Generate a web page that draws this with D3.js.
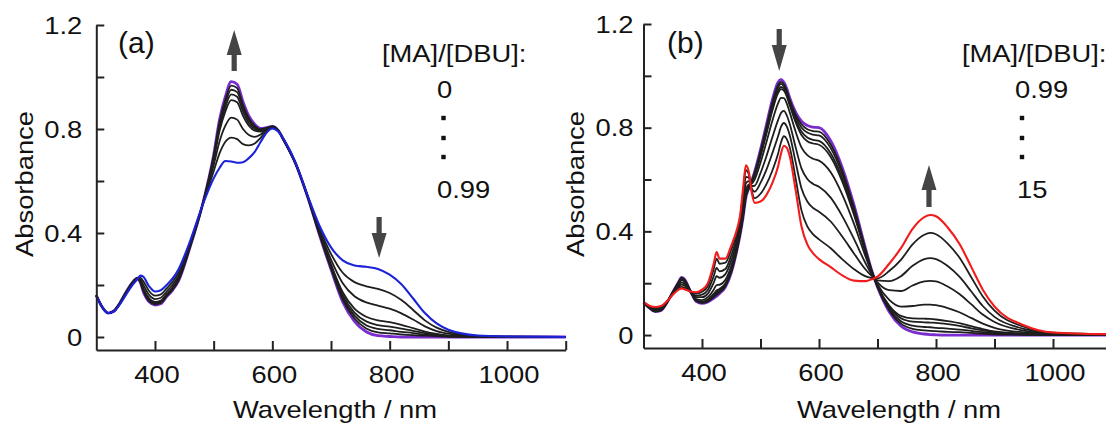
<!DOCTYPE html>
<html>
<head>
<meta charset="utf-8">
<script src="https://cdn.jsdelivr.net/npm/d3@7"></script>
<style>
  body { margin: 0; background: #fff; }
  svg { display: block; }
  text { font-family: "Liberation Sans", Arial, Helvetica, sans-serif; fill: #111; }
</style>
</head>
<body>
<svg id="chart" width="1106" height="425"></svg>
<script>
// ---------- axis ticks ----------
const yMajorTicks = [0, 0.4, 0.8, 1.2];
const yMinorTicks = [0, 0.2, 0.4, 0.6, 0.8, 1.0, 1.2];
const xLabelTicks = [400, 600, 800, 1000];
const xAllTicks = [400, 500, 600, 700, 800, 900, 1000, 1100];

// ---------- panel (a): [MA]/[DBU] = 0 -> 0.99 ----------
const wlA = [300,310,320,330,340,350,360,370,375,380,390,400,410,420,430,440,460,480,500,510,520,530,540,550,560,570,580,590,600,610,620,640,660,680,700,720,740,760,780,800,820,840,860,880,900,950,1000,1100];
const aRatio0 = [.160,.115,.092,.098,.125,.160,.195,.222,.236,.232,.195,.175,.180,.200,.225,.260,.370,.500,.610,.650,.677,.675,.670,.672,.688,.712,.750,.785,.802,.790,.758,.668,.545,.430,.345,.295,.275,.270,.262,.240,.203,.148,.092,.052,.028,.006,.002,0];
const aStep1 = [.160,.115,.092,.099,.127,.163,.198,.223,.228,.215,.177,.159,.164,.187,.212,.247,.363,.500,.637,.706,.751,.767,.761,.742,.737,.744,.766,.791,.804,.792,.757,.667,.544,.420,.320,.247,.211,.195,.185,.169,.142,.104,.064,.036,.020,.004,.001,0];
const aStep2 = [.160,.115,.092,.099,.128,.166,.201,.224,.222,.201,.162,.146,.151,.175,.200,.235,.357,.500,.660,.752,.813,.844,.836,.800,.777,.770,.779,.796,.806,.793,.756,.666,.542,.411,.298,.207,.157,.133,.121,.109,.091,.067,.041,.023,.013,.003,.001,0];
const aStep3 = [.160,.115,.092,.100,.129,.168,.203,.225,.216,.188,.149,.135,.140,.165,.190,.225,.352,.500,.679,.792,.868,.911,.903,.851,.813,.794,.790,.800,.808,.794,.756,.666,.541,.403,.280,.172,.109,.078,.064,.057,.047,.034,.021,.012,.006,.001,0,0];
const aStep4 = [.160,.115,.092,.100,.129,.168,.203,.225,.214,.184,.145,.131,.136,.162,.187,.222,.351,.500,.686,.805,.885,.933,.924,.868,.824,.801,.794,.802,.809,.794,.755,.665,.541,.401,.274,.161,.094,.060,.046,.040,.032,.024,.015,.008,.004,.001,0,0];
const aStep5 = [.160,.115,.092,.100,.130,.169,.204,.226,.213,.181,.141,.128,.133,.160,.185,.220,.349,.500,.691,.817,.900,.951,.942,.882,.834,.807,.797,.803,.809,.795,.755,.665,.541,.399,.269,.151,.082,.045,.031,.026,.020,.015,.009,.005,.003,.001,0,0];
const aStep6 = [.160,.115,.092,.100,.130,.170,.205,.226,.211,.178,.138,.126,.131,.157,.182,.217,.348,.500,.696,.826,.913,.967,.957,.893,.842,.813,.799,.804,.810,.795,.755,.665,.540,.397,.264,.143,.071,.033,.018,.014,.010,.007,.005,.003,.001,0,0,0];
const aRatio099 = [.160,.115,.092,.100,.130,.170,.205,.226,.210,.175,.135,.123,.128,.155,.180,.215,.347,.500,.700,.835,.925,.982,.972,.905,.850,.818,.802,.805,.810,.795,.755,.665,.540,.395,.260,.135,.060,.020,.005,.002,0,0,0,0,0,0,0,0];

// ---------- panel (b): [MA]/[DBU] = 0.99 -> 15 ----------
const wlB = [300,310,320,330,340,350,360,365,370,380,390,400,410,420,425,430,440,450,460,465,470,475,480,485,490,500,510,520,530,535,540,545,550,560,570,580,590,600,620,640,660,680,690,700,720,740,760,780,790,800,820,840,860,880,900,950,1000,1100];
const bRatio099 = [.125,.105,.090,.095,.125,.165,.205,.222,.215,.170,.130,.122,.128,.142,.150,.160,.185,.240,.330,.385,.450,.530,.565,.595,.630,.715,.810,.905,.975,.986,.975,.950,.915,.860,.825,.808,.802,.800,.750,.645,.500,.330,.250,.185,.090,.035,.012,.004,.002,.001,0,0,0,0,0,0,0,0];
const bStep1 = [.125,.105,.091,.096,.125,.165,.204,.221,.214,.170,.131,.124,.130,.146,.155,.164,.188,.243,.332,.387,.453,.534,.567,.594,.626,.709,.802,.895,.965,.977,.968,.943,.908,.851,.813,.794,.787,.785,.735,.633,.491,.326,.249,.186,.096,.044,.024,.018,.016,.015,.012,.011,.008,.005,.003,.001,0,0];
const bStep2 = [.125,.105,.091,.096,.125,.164,.203,.219,.213,.170,.132,.125,.132,.150,.160,.168,.192,.246,.335,.390,.457,.538,.569,.592,.623,.703,.794,.886,.956,.969,.960,.936,.902,.842,.801,.781,.773,.770,.721,.620,.483,.323,.248,.187,.101,.053,.036,.031,.030,.028,.025,.021,.016,.011,.007,.002,.001,0];
const bStep3 = [.125,.106,.092,.097,.126,.164,.202,.218,.211,.170,.134,.127,.135,.155,.167,.174,.196,.251,.338,.393,.461,.543,.572,.591,.618,.695,.783,.873,.943,.957,.951,.927,.893,.830,.785,.762,.753,.749,.701,.604,.471,.318,.247,.189,.109,.065,.052,.049,.048,.047,.042,.035,.026,.018,.011,.004,.001,0];
const bStep4 = [.125,.106,.092,.097,.126,.164,.201,.217,.210,.170,.135,.129,.137,.159,.172,.178,.199,.254,.340,.395,.464,.546,.573,.589,.614,.689,.775,.863,.933,.949,.943,.920,.886,.821,.772,.748,.739,.734,.687,.591,.462,.314,.245,.190,.114,.074,.064,.063,.062,.060,.054,.046,.034,.023,.014,.005,.001,0];
const bStep5 = [.126,.107,.095,.099,.126,.163,.198,.212,.206,.170,.139,.135,.146,.175,.193,.194,.213,.266,.350,.404,.478,.561,.581,.584,.600,.665,.743,.825,.894,.915,.914,.893,.859,.785,.724,.694,.680,.673,.628,.541,.428,.300,.241,.195,.136,.110,.112,.117,.117,.115,.104,.088,.066,.044,.028,.010,.003,.001];
const bStep6 = [.126,.109,.098,.103,.127,.161,.192,.203,.198,.170,.146,.146,.160,.202,.227,.221,.235,.287,.366,.419,.500,.586,.594,.575,.576,.625,.689,.761,.829,.857,.865,.847,.814,.725,.643,.602,.583,.572,.530,.458,.370,.275,.234,.203,.173,.170,.191,.207,.209,.207,.187,.158,.119,.079,.050,.017,.005,.001];
const bStep7 = [.127,.110,.102,.106,.128,.159,.186,.195,.191,.169,.152,.156,.174,.227,.259,.246,.255,.307,.381,.433,.520,.610,.607,.566,.553,.587,.637,.700,.767,.803,.818,.804,.771,.668,.566,.515,.490,.476,.438,.379,.314,.252,.228,.211,.208,.227,.267,.293,.297,.293,.266,.225,.169,.112,.070,.024,.006,.002];
const bStep8 = [.128,.112,.105,.109,.129,.157,.180,.186,.183,.168,.160,.167,.189,.255,.295,.275,.279,.329,.398,.449,.544,.636,.620,.557,.528,.545,.581,.633,.699,.743,.767,.756,.724,.605,.481,.419,.388,.369,.335,.292,.254,.226,.220,.219,.247,.290,.350,.387,.394,.389,.353,.299,.224,.149,.094,.032,.009,.003];
const bRatio15 = [.128,.113,.108,.112,.130,.155,.175,.180,.177,.168,.165,.175,.200,.275,.320,.295,.295,.345,.410,.460,.560,.655,.630,.550,.510,.515,.540,.585,.650,.700,.730,.722,.690,.560,.420,.350,.315,.293,.262,.230,.210,.208,.215,.225,.275,.335,.410,.455,.463,.458,.415,.352,.264,.175,.110,.038,.010,.003];

// ---------- styles ----------
const PURPLE = "#7a2dcc", BLUE = "#1b22d8", RED = "#f21c1c", BLACK = "#1e1e1e", ARROW = "#454545";
const FONT = 24, SX = 1.14;

const svg = d3.select("#chart");

function txt(g, x, y, s, anchor = "start", size = FONT, sx = SX, rot = 0) {
  return g.append("text")
    .attr("transform", `translate(${x},${y})` + (rot ? ` rotate(${rot})` : "") + ` scale(${sx},1)`)
    .attr("text-anchor", anchor)
    .attr("font-size", size)
    .text(s);
}

function arrow(g, cx, yTail, yBase, yTip) {
  const pts = [[cx - 2.6, yTail], [cx - 2.6, yBase], [cx - 7.5, yBase], [cx, yTip],
               [cx + 7.5, yBase], [cx + 2.6, yBase], [cx + 2.6, yTail]];
  g.append("path").attr("d", d3.line()(pts) + "Z").attr("fill", ARROW);
}

function drawPanel(cfg) {
  const g = svg.append("g");
  const x = d3.scaleLinear().domain([300, 1100]).range([cfg.x0, cfg.x1]);
  const y = d3.scaleLinear().domain([-0.05, 1.2]).range([cfg.yBottom, cfg.yTop]);
  const line = d3.line().x(d => x(d[0])).y(d => y(d[1])).curve(d3.curveMonotoneX);

  // spectra
  const lines = g.append("g").attr("fill", "none").attr("stroke-linejoin", "round");
  cfg.series.forEach(s => {
    lines.append("path")
      .attr("d", line(cfg.wl.map((w, i) => [w, s.v[i]])))
      .attr("stroke", s.color)
      .attr("stroke-width", s.width);
  });

  // axes
  const yAxis = d3.axisLeft(y).tickValues(yMinorTicks).tickSizeInner(-8).tickSizeOuter(0).tickFormat("");
  const xAxis = d3.axisBottom(x).tickValues(xAllTicks).tickSizeInner(-9).tickSizeOuter(0).tickFormat("");
  const ya = g.append("g").attr("transform", `translate(${cfg.x0},0)`).call(yAxis);
  const xa = g.append("g").attr("transform", `translate(0,${cfg.yBottom})`).call(xAxis);
  [ya, xa].forEach(a => {
    a.selectAll("path, line").attr("stroke", "#222").attr("stroke-width", 2);
  });

  // tick labels
  yMajorTicks.forEach(v => txt(g, cfg.x0 - cfg.yLabelGap, y(v) + 8.5, v === 0 ? "0" : v.toFixed(1), "end"));
  xLabelTicks.forEach(v => txt(g, x(v) + 2, cfg.yBottom + 33, String(v), "middle"));

  // axis titles
  txt(g, cfg.titleX, 418, "Wavelength / nm", "middle");
  txt(g, cfg.absX, 184, "Absorbance", "middle", FONT, SX, -90);

  // panel tag
  txt(g, cfg.tagX, 53, cfg.tag, "start", 30, 1.0);

  // legend
  txt(g, cfg.legX, 62, "[MA]/[DBU]:");
  txt(g, cfg.valX, 98, cfg.from);
  [118, 138, 157].forEach(cy => g.append("rect")
    .attr("x", cfg.dotX - 2.2).attr("y", cy - 2.2).attr("width", 4.4).attr("height", 4.4).attr("fill", "#111"));
  txt(g, cfg.valX2, 198, cfg.to);

  cfg.arrows.forEach(a => arrow(g, x(a.nm), a.tail, a.base, a.tip));
}

drawPanel({
  x0: 96.3, x1: 565.7, yBottom: 350, yTop: 25, yLabelGap: 14,
  wl: wlA,
  series: [
    { v: aRatio099, color: PURPLE, width: 2.8 },
    { v: aStep6, color: BLACK, width: 1.8 },
    { v: aStep5, color: BLACK, width: 1.8 },
    { v: aStep4, color: BLACK, width: 1.8 },
    { v: aStep3, color: BLACK, width: 1.8 },
    { v: aStep2, color: BLACK, width: 1.8 },
    { v: aStep1, color: BLACK, width: 1.8 },
    { v: aRatio0, color: BLUE, width: 2.1 }
  ],
  titleX: 335, absX: 33, tag: "(a)", tagX: 118,
  legX: 382, valX: 437, valX2: 437, dotX: 443.5, from: "0", to: "0.99",
  arrows: [
    { nm: 535, tail: 71, base: 55, tip: 30 },
    { nm: 782, tail: 217, base: 233, tip: 258 }
  ]
});

drawPanel({
  x0: 643.5, x1: 1111.5, yBottom: 348, yTop: 24, yLabelGap: 10,
  wl: wlB,
  series: [
    { v: bRatio099, color: PURPLE, width: 2.8 },
    { v: bStep1, color: BLACK, width: 1.8 },
    { v: bStep2, color: BLACK, width: 1.8 },
    { v: bStep3, color: BLACK, width: 1.8 },
    { v: bStep4, color: BLACK, width: 1.8 },
    { v: bStep5, color: BLACK, width: 1.8 },
    { v: bStep6, color: BLACK, width: 1.8 },
    { v: bStep7, color: BLACK, width: 1.8 },
    { v: bStep8, color: BLACK, width: 1.8 },
    { v: bRatio15, color: RED, width: 2.1 }
  ],
  titleX: 899, absX: 584, tag: "(b)", tagX: 667,
  legX: 962, valX: 1015, valX2: 1017, dotX: 1022, from: "0.99", to: "15",
  arrows: [
    { nm: 532, tail: 29, base: 45, tip: 71 },
    { nm: 788, tail: 207, base: 190, tip: 165 }
  ]
});
</script>
</body>
</html>
